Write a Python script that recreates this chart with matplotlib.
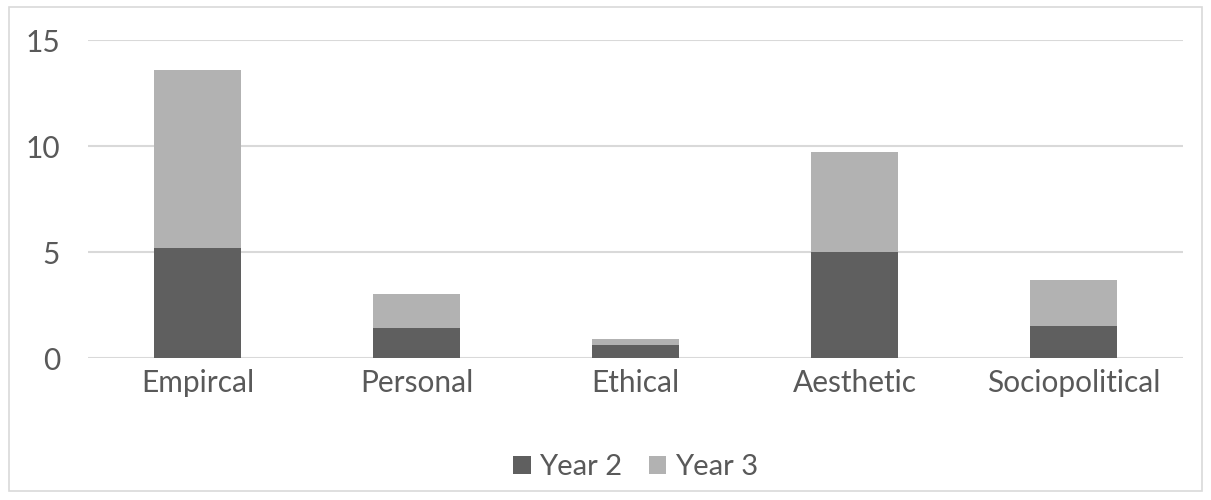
import numpy as np
import matplotlib.pyplot as plt
from matplotlib.patches import Rectangle

categories = ['Empircal', 'Personal', 'Ethical', 'Aesthetic', 'Sociopolitical']
year2 = [5.2, 1.4, 0.6, 5.0, 1.5]
year3 = [8.4, 1.6, 0.3, 4.7, 2.2]
yticks = [0, 5, 10, 15]

text_color = '#595959'
plt.rcParams['font.family'] = ['Lato', 'DejaVu Sans']

fig = plt.figure(figsize=(12.11, 5.0), dpi=100)
ax = fig.add_axes([88 / 1211, 1 - 358 / 500, (1183 - 88) / 1211, (358 - 40) / 500])

x = np.arange(len(categories))
ax.bar(x, year2, width=0.4, color='#5f5f5f', label='Year 2', zorder=3)
ax.bar(x, year3, width=0.4, bottom=year2, color='#b2b2b2', label='Year 3', zorder=3)

ax.set_xlim(-0.5, len(categories) - 0.5)
ax.set_ylim(0, 15)
ax.set_yticks(yticks)
ax.set_xticks(x)
ax.set_xticklabels(categories)
ax.grid(axis='y', color='#d9d9d9', linewidth=1.5, zorder=0)
for s in ax.spines.values():
    s.set_visible(False)
ax.tick_params(length=0, labelsize=21.5, colors=text_color)
ax.tick_params(axis='x', pad=8)
ax.tick_params(axis='y', pad=20)

ax.legend(loc='upper center', bbox_to_anchor=(0.5, -0.22), ncol=2, frameon=False,
          fontsize=21, labelcolor=text_color, handlelength=0.6, handleheight=0.6,
          handletextpad=0.3, columnspacing=0.9)

fig.patches.append(Rectangle((9 / 1211, 1 - 491 / 500), 1193 / 1211, 484 / 500,
                             transform=fig.transFigure, fill=False,
                             edgecolor='#d9d9d9', linewidth=1.2))

fig.savefig('out.png', dpi=100)
